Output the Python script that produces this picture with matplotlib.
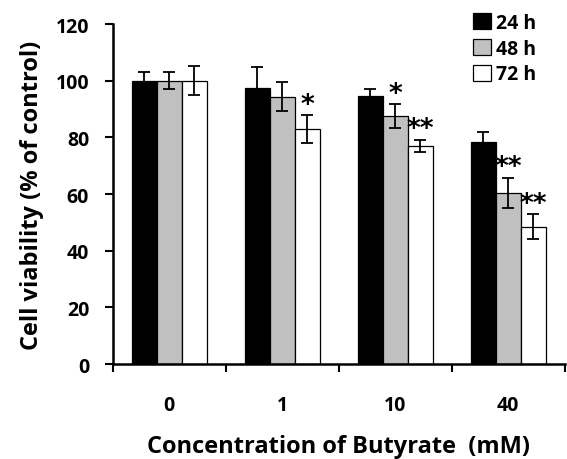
import matplotlib.pyplot as plt
import numpy as np

concentrations = ["0", "1", "10", "40"]
series = ["24 h", "48 h", "72 h"]
viability_24h = [100, 97.3, 94.7, 78.5]
viability_48h = [100, 94.4, 87.6, 60.4]
viability_72h = [100, 83.0, 77.0, 48.5]
err_24h = [3.2, 7.7, 2.5, 3.3]
err_48h = [3.0, 5.0, 4.3, 5.4]
err_72h = [5.2, 5.0, 2.2, 4.5]
stars_48h = ["", "", "*", "**"]
stars_72h = ["", "*", "**", "**"]

plt.rcParams['font.family'] = ['Open Sans', 'DejaVu Sans']
plt.rcParams['font.weight'] = 'bold'

fig = plt.figure(figsize=(5.67, 4.6), dpi=100)
ax = fig.add_axes([0.199, 0.2065, 0.797, 0.739])

x = np.arange(len(concentrations))
w = 0.22
colors = ["black", "#c0c0c0", "white"]
values = [viability_24h, viability_48h, viability_72h]
errs = [err_24h, err_48h, err_72h]
for i, (vals, e, c, lab) in enumerate(zip(values, errs, colors, series)):
    xs = x + (i - 1) * w
    ax.bar(xs, vals, width=w, color=c, edgecolor="black", linewidth=0.9, label=lab, zorder=2)
    ax.errorbar(xs, vals, yerr=e, fmt="none", ecolor="black", elinewidth=1.3,
                capsize=4, capthick=1.3, zorder=3)

for i, (marks, vals, e) in enumerate([(stars_48h, viability_48h, err_48h),
                                       (stars_72h, viability_72h, err_72h)]):
    for j, m in enumerate(marks):
        if m:
            ax.text(x[j] + i * w, vals[j] + e[j] - 1.0, m, ha="center", va="bottom",
                    fontsize=19, fontweight="bold", family="DejaVu Sans")

ax.set_xlim(-0.5, 3.5)
ax.set_ylim(0, 120)
ax.set_yticks(range(0, 121, 20))
ax.set_xticks(x)
ax.set_xticklabels(concentrations)
ax.set_xticks(np.arange(-0.5, 3.6, 1), minor=True)
ax.tick_params(axis="x", which="major", length=0, pad=22, labelsize=14)
ax.tick_params(axis="x", which="minor", length=6, width=1.5, direction="out")
ax.tick_params(axis="y", length=6, width=1.5, direction="out", labelsize=14, pad=11)
for s in ["top", "right"]:
    ax.spines[s].set_visible(False)
for s in ["left", "bottom"]:
    ax.spines[s].set_linewidth(1.8)

ax.set_ylabel("Cell viability (% of control)", fontsize=17, fontweight="bold", labelpad=8)
ax.set_xlabel("Concentration of Butyrate  (mM)", fontsize=17, fontweight="bold", labelpad=14)

ax.legend(loc="upper right", bbox_to_anchor=(0.975, 1.085), frameon=False, fontsize=14,
          handlelength=0.9, handleheight=0.9, handletextpad=0.25, labelspacing=0.3)

fig.savefig("out.png", dpi=100)
